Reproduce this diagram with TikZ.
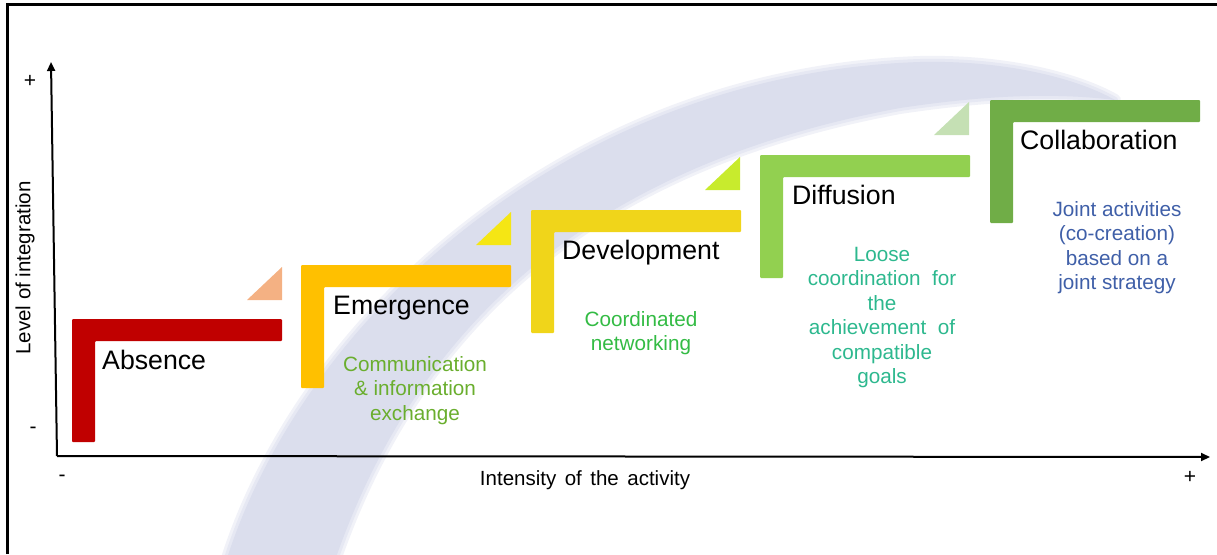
\documentclass[tikz,border=0pt]{standalone}
\usepackage{fontspec}
\setmainfont{Liberation Sans}
\usetikzlibrary{arrows.meta}
\definecolor{cRed}{HTML}{C00000}
\definecolor{cOrange}{HTML}{FFC000}
\definecolor{cYellow}{HTML}{F0D51A}
\definecolor{cLight}{HTML}{92D050}
\definecolor{cGreen}{HTML}{70AD47}
\definecolor{tSalmon}{HTML}{F4B183}
\definecolor{tYellow}{HTML}{F5E614}
\definecolor{tLime}{HTML}{C8EB2D}
\definecolor{tPale}{HTML}{C5E0B4}
\definecolor{dOlive}{HTML}{6AAE2E}
\definecolor{dGreen}{HTML}{33BB44}
\definecolor{dTeal}{HTML}{2DB88E}
\definecolor{dBlue}{HTML}{3F5FA8}
\definecolor{band}{RGB}{219,222,237}
\definecolor{bandsoft}{RGB}{230,232,243}
\definecolor{bandsofter}{RGB}{241,242,248}
\newcommand{\bandpath}{(222,575) .. controls (290,335) and (556,74) .. (920,62)
  .. controls (1010,60) and (1080,80) .. (1115,100)
  .. controls (1050,92) and (980,96) .. (900,108)
  .. controls (620,160) and (420,300) .. (330,575) -- cycle}
\tikzset{
  stagelabel/.style={anchor=base west, inner sep=0pt, font=\fontsize{26.7}{31}\selectfont, text=black},
  desc/.style={anchor=north, inner sep=0pt, align=center, font=\fontsize{20.7}{24.5}\selectfont},
  axislabel/.style={inner sep=0pt, font=\fontsize{20.5}{23}\selectfont},
  sign/.style={inner sep=0pt, font=\fontsize{21}{23}\selectfont},
  axisline/.style={line width=2pt, -{Triangle[length=9pt,width=8pt]}},
}
\begin{document}
\begin{tikzpicture}[x=1pt,y=-1pt]
\useasboundingbox (0,0) rectangle (1217,554);
% background swoosh with soft edge
\draw[bandsofter, line width=12pt, line join=round] \bandpath;
\draw[bandsoft, line width=6pt, line join=round] \bandpath;
\fill[band] \bandpath;
% frame
\draw[line width=3pt] (7,554) -- (7,4) -- (1217,4);
% axes
\coordinate (O) at (57,456);
\coordinate (ytip) at (51,62);
\coordinate (xtip) at (1210,457);
\draw[axisline] (O) -- (ytip);
\draw[axisline] (O) -- (xtip);
\node[sign] (yplus) at (30,81) {+};
\node[sign] (yminus) at (33,430) {-};
\node[sign] (xminus) at (62,478) {-};
\node[sign] (xplus) at (1190,477) {+};
\node[axislabel, rotate=90] (ylab) at (25,268) {Level of integration};
\node[axislabel] (xlab) at (585,480) {Intensity\hspace{8.5pt}of\hspace{8.5pt}the\hspace{8.5pt}activity};
% steps
\newcommand{\stepshape}[3]{%
  \fill[#3, rounded corners=1pt] (#1,#2) -- ++(210,0) -- ++(0,22) -- ++(-187,0) -- ++(0,101) -- ++(-23,0) -- cycle;}
\newcommand{\tri}[3]{%
  \fill[#3] (#1,#2) -- ++(0,33) -- ++(-35,0) -- cycle;}
\stepshape{72}{319}{cRed}
\stepshape{301}{265}{cOrange}
\stepshape{531}{210}{cYellow}
\stepshape{760}{155}{cLight}
\stepshape{990}{100}{cGreen}
\tri{282}{267}{tSalmon}
\tri{511}{212}{tYellow}
\tri{740}{157}{tLime}
\tri{969}{102}{tPale}
% labels
\node[stagelabel] (absence) at (102,369) {Absence};
\node[stagelabel] (emergence) at (333,314) {Emergence};
\node[stagelabel] (development) at (562,259) {Development};
\node[stagelabel] (diffusion) at (792,204) {Diffusion};
\node[stagelabel] (collaboration) at (1020,149) {Collaboration};
% descriptions
\node[desc, text=dOlive] (d1) at (415,356) {Communication\\ \& information\\ exchange};
\node[desc, text=dGreen] (d2) at (641,311) {Coordinated\\ networking};
\node[desc, text=dTeal] (d3) at (882,247) {Loose\\ coordination\ \ for\\ the\\ achievement\ \ of\\ compatible\\ goals};
\node[desc, text=dBlue] (d4) at (1117,201) {Joint activities\\ (co-creation)\\ based on a\\ joint strategy};
\end{tikzpicture}
\end{document}
